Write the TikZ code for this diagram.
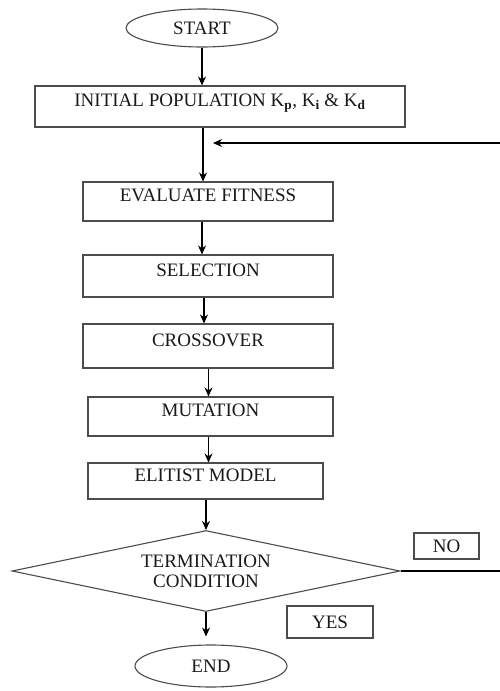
\documentclass[tikz,border=0pt]{standalone}
\usepackage{fontspec}
\setmainfont{Liberation Serif}
\usetikzlibrary{shapes.geometric, arrows.meta}

\begin{document}
\begin{tikzpicture}[x=1pt, y=-1pt,
    every node/.style={font=\fontsize{19}{20}\selectfont, text=black!90},
    stepbox/.style={draw=black!70, line width=1.1pt, rectangle, inner sep=0pt, text height=13pt, text depth=13pt},
    termbox/.style={draw=black!70, line width=1.1pt, ellipse, inner sep=0pt},
    tagbox/.style={draw=black!70, line width=1.1pt, rectangle, inner sep=0pt},
    flow/.style={line width=1.1pt, -{Stealth[length=9pt,width=8pt]}}]
\useasboundingbox (0,0) rectangle (499,691);

\node[termbox, minimum width=152pt, minimum height=38pt] (start) at (202,28) {START};
\node[stepbox, minimum width=370pt, minimum height=41pt] (init) at (220,106.5)
    {INITIAL POPULATION K\textsubscript{\textbf{p}}, K\textsubscript{\textbf{i}} \& K\textsubscript{\textbf{d}}};
\node[stepbox, minimum width=250pt, minimum height=39pt] (eval) at (208,201.5) {EVALUATE FITNESS};
\node[stepbox, minimum width=250pt, minimum height=42pt] (sel) at (208,276) {SELECTION};
\node[stepbox, minimum width=250pt, minimum height=44pt] (cross) at (208,346) {CROSSOVER};
\node[stepbox, minimum width=245pt, minimum height=39pt] (mut) at (210.5,416.5) {MUTATION};
\node[stepbox, minimum width=235pt, minimum height=36pt] (elit) at (205.5,481) {ELITIST MODEL};
\node[draw=black!70, line width=1.1pt, diamond, aspect=4.8, inner sep=0pt,
      minimum width=388pt, minimum height=81pt, align=center] (cond) at (206,571) {TERMINATION\\CONDITION};
\node[tagbox, minimum width=65pt, minimum height=26pt] (no) at (446.5,546) {NO};
\node[tagbox, minimum width=86pt, minimum height=32pt] (yes) at (330,622) {YES};
\node[termbox, minimum width=152pt, minimum height=42pt] (end) at (211,666) {END};

% loop back for NO
\coordinate (loop) at (506,143);
\coordinate (join) at (213,143);

\draw[flow] (start.south) -- (start.south |- init.north);
\draw[flow] ([xshift=-5pt]eval.north |- init.south) -- ([xshift=-5pt]eval.north);
\draw[flow] ([xshift=-6pt]sel.north |- eval.south) -- ([xshift=-6pt]sel.north);
\draw[flow] ([xshift=-4pt]cross.north |- sel.south) -- ([xshift=-4pt]cross.north);
\draw[flow] ([xshift=-2pt]mut.north |- cross.south) -- ([xshift=-2pt]mut.north);
\draw[flow] ([xshift=3pt]elit.north |- mut.south) -- ([xshift=3pt]elit.north);
\draw[flow] (cond.north |- elit.south) -- (cond.north);
\draw[flow, shorten >=8pt] (cond.south) -- (cond.south |- end.north);
\draw[flow] (cond.east) -- (cond.east -| loop) -- (loop) -- (join);
\end{tikzpicture}
\end{document}
